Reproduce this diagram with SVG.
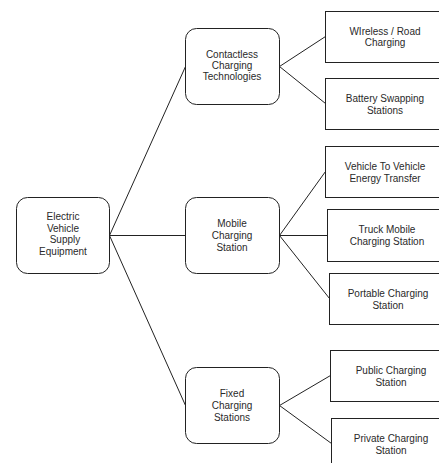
<svg xmlns="http://www.w3.org/2000/svg" width="439" height="463" viewBox="0 0 439 463">
<style>
.n{fill:#fff;stroke:#222;stroke-width:1}
.t{font-family:"Liberation Sans",Arial,sans-serif;font-size:10px;fill:#2a2a2a;text-anchor:middle}
.c{fill:none;stroke:#222;stroke-width:1}
</style>
<rect width="439" height="463" fill="#fff"/>
<g id="connectors">
<path class="c" d="M109.5 235.5 L185.5 66.5"/>
<path class="c" d="M109.5 235.5 L185.5 235.5"/>
<path class="c" d="M109.5 235.5 L185.5 405.5"/>
<path class="c" d="M279.5 66.5 L325.5 36.5"/>
<path class="c" d="M279.5 66.5 L325.5 103.5"/>
<path class="c" d="M279.5 235.5 L325.5 171.5"/>
<path class="c" d="M279.5 235.5 L327.5 235.5"/>
<path class="c" d="M279.5 235.5 L329.5 298.5"/>
<path class="c" d="M279.5 405.5 L330.5 375.5"/>
<path class="c" d="M279.5 405.5 L331.5 443.5"/>
</g>
<g id="evse">
<rect class="n" x="16.5" y="197.5" width="93" height="76" rx="11"/>
<text class="t" x="63" y="220">Electric</text>
<text class="t" x="63" y="232">Vehicle</text>
<text class="t" x="65" y="243">Supply</text>
<text class="t" x="63" y="255">Equipment</text>
</g>
<g id="contactless">
<rect class="n" x="185.5" y="28.5" width="94" height="76" rx="11"/>
<text class="t" x="232" y="58">Contactless</text>
<text class="t" x="232" y="69">Charging</text>
<text class="t" x="232" y="80">Technologies</text>
</g>
<g id="mobile">
<rect class="n" x="185.5" y="197.5" width="94" height="76" rx="11"/>
<text class="t" x="232" y="227">Mobile</text>
<text class="t" x="232" y="239">Charging</text>
<text class="t" x="232" y="251">Station</text>
</g>
<g id="fixed">
<rect class="n" x="185.5" y="367.5" width="94" height="76" rx="11"/>
<text class="t" x="232" y="397">Fixed</text>
<text class="t" x="232" y="409">Charging</text>
<text class="t" x="232" y="421">Stations</text>
</g>
<g id="wireless">
<rect class="n" x="325.5" y="11.5" width="120" height="51"/>
<text class="t" x="385" y="35">WIreless / Road</text>
<text class="t" x="385" y="46">Charging</text>
</g>
<g id="battery">
<rect class="n" x="325.5" y="78.5" width="120" height="51"/>
<text class="t" x="385" y="102">Battery Swapping</text>
<text class="t" x="385" y="114">Stations</text>
</g>
<g id="v2v">
<rect class="n" x="325.5" y="146.5" width="120" height="51"/>
<text class="t" x="385" y="170">Vehicle To Vehicle</text>
<text class="t" x="385" y="182">Energy Transfer</text>
</g>
<g id="truck">
<rect class="n" x="327.5" y="209.5" width="120" height="52"/>
<text class="t" x="387" y="233">Truck Mobile</text>
<text class="t" x="387" y="245">Charging Station</text>
</g>
<g id="portable">
<rect class="n" x="329.5" y="273.5" width="120" height="51"/>
<text class="t" x="388" y="297">Portable Charging</text>
<text class="t" x="388" y="309">Station</text>
</g>
<g id="public">
<rect class="n" x="330.5" y="350.5" width="120" height="51"/>
<text class="t" x="391" y="374">Public Charging</text>
<text class="t" x="391" y="386">Station</text>
</g>
<g id="private">
<rect class="n" x="331.5" y="418.5" width="120" height="51"/>
<text class="t" x="391" y="442">Private Charging</text>
<text class="t" x="391" y="454">Station</text>
</g>
</svg>
